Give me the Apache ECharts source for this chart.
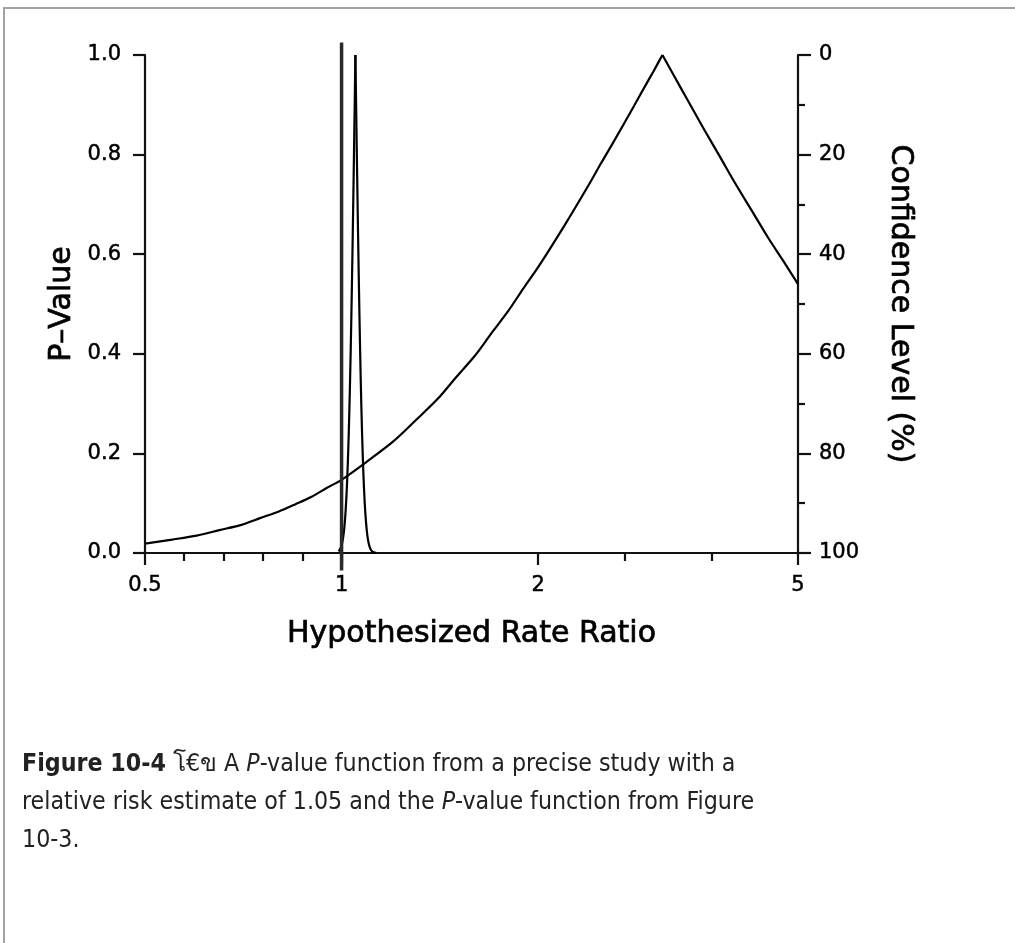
<!DOCTYPE html>
<html>
<head>
<meta charset="utf-8">
<script src="https://cdn.jsdelivr.net/npm/echarts@6/dist/echarts.min.js"></script>
<style>
html,body{margin:0;padding:0;background:#fff;width:1015px;height:943px;overflow:hidden;}
#frame{position:absolute;left:3px;top:7px;right:-5px;bottom:-5px;border-top:2px solid #a3a3a3;border-left:2px solid #a3a3a3;}
#chart{position:absolute;left:0;top:0;width:1015px;height:943px;}
#caption{position:absolute;left:22px;top:744px;font-family:"DejaVu Sans Condensed","DejaVu Sans",sans-serif;font-size:24.7px;line-height:38px;color:#222;white-space:nowrap;}
</style>
</head>
<body>
<div id="frame"></div>
<div id="chart"></div>
<div id="caption"><b>Figure 10-4</b> โ€ข A <i>P</i>-value function from a precise study with a<br>relative risk estimate of 1.05 and the <i>P</i>-value function from Figure<br>10-3.</div>
<script>
// ---- data ----
const xMajorTicks = [0.5, 1, 2, 5];
const xMinorTicks = [0.574, 0.66, 0.758, 0.871, 2.714, 3.684];

// P-value function from Figure 10-3 (wide curve)
const wideRR = [0.5, 0.55, 0.6, 0.65, 0.7, 0.75, 0.8, 0.85, 0.9, 0.95, 1.0, 1.1, 1.2, 1.3, 1.4, 1.5, 1.6, 1.7, 1.8, 1.9, 2.0, 2.2, 2.4, 2.5, 2.6, 2.8, 2.9, 3.0, 3.1, 3.3, 3.45, 3.6, 3.8, 4.0, 4.25, 4.5, 4.75, 5.0];
const wideP  = [0.019, 0.027, 0.035, 0.046, 0.056, 0.070, 0.083, 0.098, 0.113, 0.131, 0.147, 0.186, 0.224, 0.267, 0.308, 0.354, 0.396, 0.443, 0.486, 0.532, 0.574, 0.660, 0.743, 0.784, 0.822, 0.896, 0.932, 0.966, 1.0, 0.936, 0.891, 0.848, 0.795, 0.744, 0.687, 0.633, 0.586, 0.540];

// P-value function from the precise study (estimate 1.05)
const narrowRR = [0.99, 1.0, 1.005, 1.01, 1.015, 1.02, 1.025, 1.03, 1.035, 1.04, 1.045, 1.05, 1.055, 1.06, 1.065, 1.07, 1.075, 1.08, 1.085, 1.09, 1.095, 1.10, 1.105, 1.11, 1.115, 1.12, 1.13];
const narrowP  = [0.003, 0.015, 0.029, 0.052, 0.090, 0.147, 0.228, 0.336, 0.472, 0.632, 0.811, 1.0, 0.812, 0.636, 0.478, 0.345, 0.239, 0.159, 0.101, 0.062, 0.036, 0.020, 0.011, 0.0055, 0.0027, 0.0012, 0.0002];

// null value reference line at RR = 1
const nullRR = [1, 1];
const nullP  = [-0.035, 1.025];

function pairs(xs, ys) { return xs.map((x, i) => [x, ys[i]]); }
function splitAtPeak(xs, ys) {
  const k = ys.indexOf(Math.max.apply(null, ys));
  return [pairs(xs.slice(0, k + 1), ys.slice(0, k + 1)), pairs(xs.slice(k), ys.slice(k))];
}
const wideParts = splitAtPeak(wideRR, wideP);
const narrowParts = splitAtPeak(narrowRR, narrowP);

const FONT = 'DejaVu Sans';
const labelStyle = {fontFamily: FONT, fontSize: 21, color: '#000', textBorderColor: '#000', textBorderWidth: 0.5};
const nameStyle = {fontFamily: FONT, fontSize: 30, color: '#000', textBorderColor: '#000', textBorderWidth: 0.7};
const curve = (data, w) => ({
  type: 'line', xAxisIndex: 0, yAxisIndex: 0, data: data, smooth: 0.3,
  showSymbol: false, symbol: 'none', clip: false,
  lineStyle: {color: '#000', width: w}
});

const chart = echarts.init(document.getElementById('chart'), null, {renderer: 'canvas'});
chart.setOption({
  animation: false,
  backgroundColor: 'transparent',
  grid: {left: 145, top: 55, width: 653, height: 498, containLabel: false},
  xAxis: [{
    type: 'log', logBase: 10, min: 0.5, max: 5, position: 'bottom',
    name: 'Hypothesized Rate Ratio', nameLocation: 'middle', nameGap: 66, nameMoveOverlap: false,
    nameTextStyle: nameStyle,
    axisLine: {show: true, onZero: false, lineStyle: {color: '#111', width: 2.2}},
    axisTick: {show: true, customValues: xMajorTicks, length: 12, inside: false, lineStyle: {color: '#111', width: 2.2}},
    axisLabel: Object.assign({show: true, customValues: xMajorTicks, margin: 22,
      formatter: v => String(+(+v).toFixed(2))}, labelStyle),
    splitLine: {show: false}, minorTick: {show: false}, minorSplitLine: {show: false}
  }, {
    type: 'log', logBase: 10, min: 0.5, max: 5, position: 'bottom', offset: 0,
    axisLine: {show: false},
    axisTick: {show: true, customValues: xMinorTicks, length: 8, lineStyle: {color: '#111', width: 2.2}},
    axisLabel: {show: false},
    splitLine: {show: false}
  }],
  yAxis: [{
    type: 'value', min: 0, max: 1, interval: 0.2, position: 'left',
    name: 'P\u2013Value', nameLocation: 'middle', nameGap: 68, nameMoveOverlap: false,
    nameTextStyle: nameStyle,
    axisLine: {show: true, lineStyle: {color: '#111', width: 2.2}},
    axisTick: {show: true, length: 12, lineStyle: {color: '#111', width: 2.2}},
    axisLabel: Object.assign({margin: 24, formatter: v => (+v).toFixed(1)}, labelStyle),
    splitLine: {show: false}
  }, {
    type: 'value', min: 0, max: 100, interval: 20, inverse: true, position: 'right',
    name: 'Confidence Level (%)', nameLocation: 'middle', nameGap: 87, nameRotate: -90, nameMoveOverlap: false,
    nameTextStyle: nameStyle,
    axisLine: {show: true, lineStyle: {color: '#111', width: 2.2}},
    axisTick: {show: true, length: 13, lineStyle: {color: '#111', width: 2.2}},
    minorTick: {show: true, splitNumber: 2, length: 7, lineStyle: {color: '#111', width: 2.2}},
    axisLabel: Object.assign({margin: 21}, labelStyle),
    splitLine: {show: false}
  }],
  series: [
    curve(wideParts[0], 2.2), curve(wideParts[1], 2.2),
    curve(narrowParts[0], 2.2), curve(narrowParts[1], 2.2),
    {
      type: 'line', xAxisIndex: 0, yAxisIndex: 0, data: pairs(nullRR, nullP),
      showSymbol: false, symbol: 'none', clip: false,
      lineStyle: {color: '#2a2a2a', width: 3.5}
    }
  ]
});
</script>
</body>
</html>
